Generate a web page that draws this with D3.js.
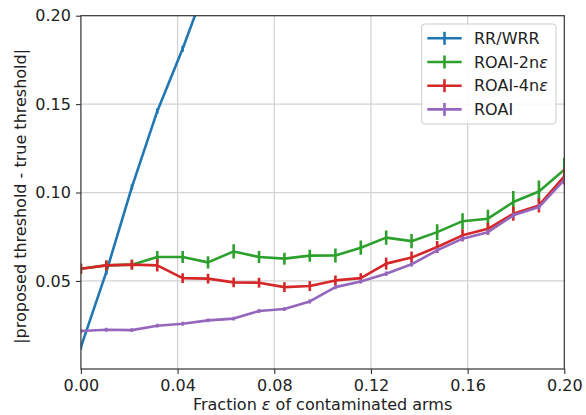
<!DOCTYPE html>
<html><head><meta charset="utf-8">
<script src="https://cdn.jsdelivr.net/npm/d3@7"></script>
<style>body{margin:0;background:#fff}svg{display:block;font-family:"DejaVu Sans",sans-serif}</style>
</head><body><svg id="c" width="586" height="415"></svg>
<script>
const eps = [0, 0.0105, 0.0211, 0.0316, 0.0421, 0.0526, 0.0632, 0.0737, 0.0842, 0.0947, 0.1053, 0.1158, 0.1263, 0.1368, 0.1474, 0.1579, 0.1684, 0.1789, 0.1895, 0.2];
const rrwrr = [0.0126, 0.0550, 0.1031, 0.1460, 0.1813, 0.2200, 0.2550, 0.2900, 0.3250, 0.3600, 0.3950, 0.4300, 0.4650, 0.5000, 0.5350, 0.5700, 0.6050, 0.6400, 0.6750, 0.7100];
const rrwrrErr = [0.0015, 0.0015, 0.0015, 0.0015, 0.0017, 0.0017, 0.0018, 0.0018, 0.0018, 0.0019, 0.0019, 0.002, 0.002, 0.002, 0.002, 0.002, 0.002, 0.002, 0.002, 0.002];
const roai2 = [0.0569, 0.0588, 0.0592, 0.0635, 0.0635, 0.0605, 0.0667, 0.0635, 0.0626, 0.0643, 0.0644, 0.0688, 0.0745, 0.0725, 0.0776, 0.0838, 0.0852, 0.0946, 0.1006, 0.1129];
const roai2Err = [0.0028, 0.0028, 0.0028, 0.0034, 0.0034, 0.0034, 0.0040, 0.0034, 0.0034, 0.0034, 0.0040, 0.0040, 0.0040, 0.0040, 0.0045, 0.0045, 0.0051, 0.0062, 0.0062, 0.0068];
const roai4 = [0.0569, 0.0588, 0.0592, 0.0588, 0.0516, 0.0513, 0.0492, 0.0490, 0.0465, 0.0471, 0.0503, 0.0516, 0.0598, 0.0632, 0.0692, 0.0758, 0.0795, 0.0880, 0.0927, 0.1091];
const roai4Err = [0.0028, 0.0028, 0.0028, 0.0034, 0.0028, 0.0028, 0.0028, 0.0028, 0.0028, 0.0028, 0.0028, 0.0028, 0.0034, 0.0034, 0.0034, 0.0034, 0.0034, 0.0040, 0.0040, 0.0045];
const roai = [0.0217, 0.0224, 0.0222, 0.0247, 0.0258, 0.0277, 0.0287, 0.0330, 0.0341, 0.0384, 0.0465, 0.0497, 0.0541, 0.0594, 0.0673, 0.0739, 0.0776, 0.0871, 0.0918, 0.1072];
const roaiErr = [0.0011, 0.0011, 0.0011, 0.0011, 0.0011, 0.0011, 0.0011, 0.0011, 0.0011, 0.0012, 0.0012, 0.0012, 0.0013, 0.0013, 0.0014, 0.0014, 0.0015, 0.0016, 0.0016, 0.0017];
const seriesNames = ["RR/WRR", "ROAI-2nε", "ROAI-4nε", "ROAI"];
const seriesColors = ["#1f77b4", "#2ca02c", "#d62728", "#9467bd"];
const xTicks = [0, 0.04, 0.08, 0.12, 0.16, 0.20];
const yTicks = [0.05, 0.10, 0.15, 0.20];
const xLabel = "Fraction ε of contaminated arms";
const yLabel = "|proposed threshold - true threshold|";

const series = [
  {name: seriesNames[0], color: seriesColors[0], v: rrwrr, e: rrwrrErr},
  {name: seriesNames[1], color: seriesColors[1], v: roai2, e: roai2Err},
  {name: seriesNames[2], color: seriesColors[2], v: roai4, e: roai4Err},
  {name: seriesNames[3], color: seriesColors[3], v: roai, e: roaiErr}
];

const L = 80.9, R = 564.3, T = 15.7, B = 369;
const svg = d3.select("#c");
const x = d3.scaleLinear().domain([0, 0.2]).range([L, R]);
const y = d3.scaleLinear().domain([0.0002, 0.2]).range([B, T]);

svg.append("defs").append("clipPath").attr("id", "clip")
  .append("rect").attr("x", L).attr("y", T).attr("width", R - L).attr("height", B - T);

// grid
const grid = svg.append("g").attr("stroke", "#d3d3d3").attr("stroke-width", 1.3);
grid.selectAll(".gx").data(xTicks.slice(1, -1)).join("line")
  .attr("x1", d => x(d)).attr("x2", d => x(d)).attr("y1", T).attr("y2", B);
grid.selectAll(".gy").data(yTicks.slice(0, -1)).join("line")
  .attr("y1", d => y(d)).attr("y2", d => y(d)).attr("x1", L).attr("x2", R);

// series
const plot = svg.append("g").attr("clip-path", "url(#clip)");
const line = d3.line().x((d, i) => x(eps[i])).y(d => y(d));
series.forEach(s => {
  const g = plot.append("g");
  g.append("path").attr("d", line(s.v)).attr("fill", "none")
    .attr("stroke", s.color).attr("stroke-width", 2.6).attr("stroke-linejoin", "round");
  g.selectAll("line").data(s.v).join("line")
    .attr("x1", (d, i) => x(eps[i])).attr("x2", (d, i) => x(eps[i]))
    .attr("y1", (d, i) => y(d - s.e[i])).attr("y2", (d, i) => y(d + s.e[i]))
    .attr("stroke", s.color).attr("stroke-width", 2.6);
});

// axes
const fmt = d3.format(".2f");
const xa = svg.append("g").attr("transform", `translate(0,${B})`)
  .call(d3.axisBottom(x).tickValues(xTicks).tickFormat(fmt).tickSize(5).tickPadding(5));
const ya = svg.append("g").attr("transform", `translate(${L},0)`)
  .call(d3.axisLeft(y).tickValues(yTicks).tickFormat(fmt).tickSize(5).tickPadding(5));
[xa, ya].forEach(a => {
  a.select(".domain").remove();
  a.selectAll(".tick line").attr("stroke", "#333").attr("stroke-width", 1.1);
  a.selectAll(".tick text").attr("fill", "#222").style("font-size", "16px")
    .style("font-family", "DejaVu Sans");
});
xa.selectAll(".tick text").attr("dy", "0.72em");

// spines
svg.append("rect").attr("x", L).attr("y", T).attr("width", R - L).attr("height", B - T)
  .attr("fill", "none").attr("stroke", "#333").attr("stroke-width", 1.2);

// labels
const xl = svg.append("text").attr("x", (L + R) / 2).attr("y", 410).attr("text-anchor", "middle")
  .style("font-size", "16px").attr("fill", "#222");
xl.append("tspan").text("Fraction ");
xl.append("tspan").attr("font-style", "italic").text("ε");
xl.append("tspan").text(" of contaminated arms");
svg.append("text").attr("transform", `translate(26,${(T + B) / 2 + 4}) rotate(-90)`)
  .attr("text-anchor", "middle").style("font-size", "16px").attr("fill", "#222").text(yLabel);

// legend
const lg = svg.append("g");
lg.append("rect").attr("x", 421.7).attr("y", 24).attr("width", 134.3).attr("height", 100)
  .attr("rx", 3).attr("fill", "#fff").attr("fill-opacity", 0.85)
  .attr("stroke", "#cccccc").attr("stroke-width", 1);
series.forEach((s, i) => {
  const cy = 38.3 + i * 23.7;
  lg.append("line").attr("x1", 427.3).attr("x2", 461.7).attr("y1", cy).attr("y2", cy)
    .attr("stroke", s.color).attr("stroke-width", 2.6);
  lg.append("line").attr("x1", 444.5).attr("x2", 444.5).attr("y1", cy - 6.5).attr("y2", cy + 6.5)
    .attr("stroke", s.color).attr("stroke-width", 2.6);
  const t = lg.append("text").attr("x", 474).attr("y", cy).attr("dy", "0.36em")
    .style("font-size", "16px").attr("fill", "#222");
  const m = s.name.match(/^(.*?)(ε?)$/);
  t.append("tspan").text(m[1]);
  if (m[2]) t.append("tspan").attr("font-style", "italic").text(m[2]);
});
</script></body></html>
